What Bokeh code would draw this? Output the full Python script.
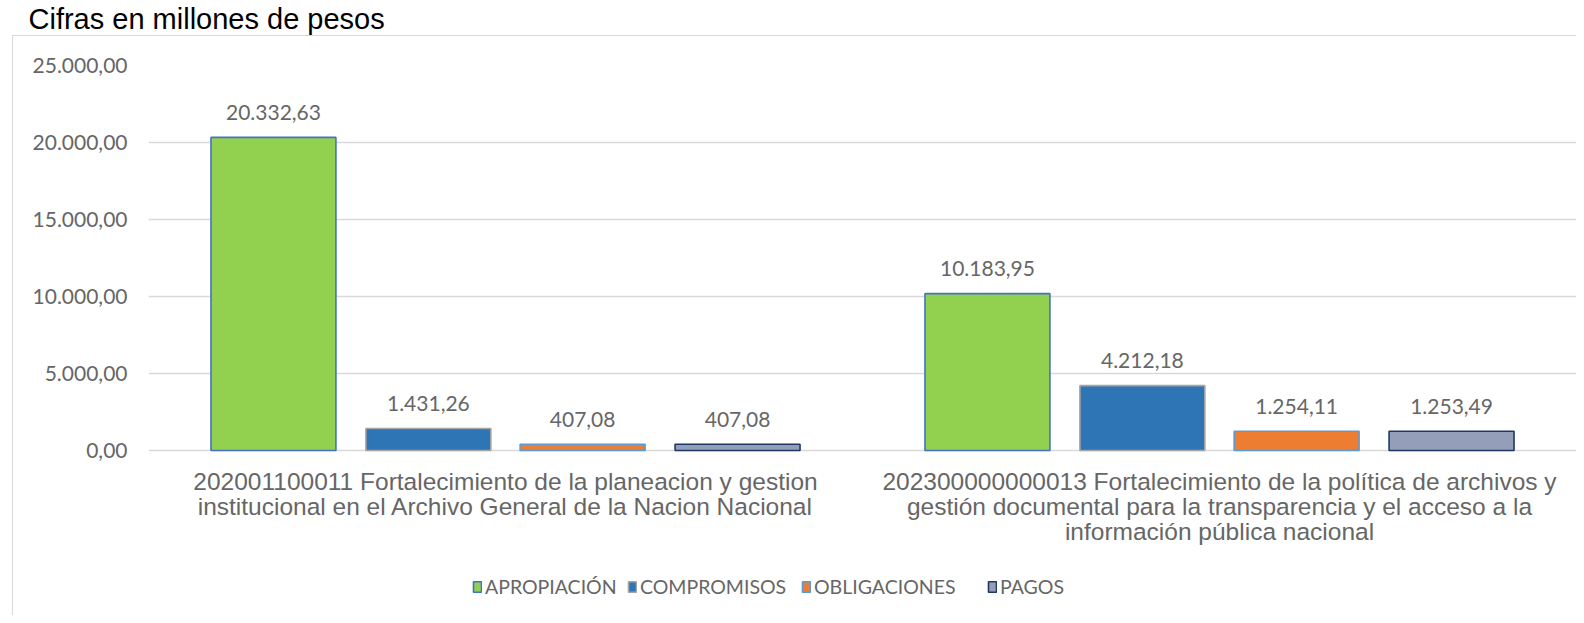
from bokeh.plotting import figure
from bokeh.models import (ColumnDataSource, FactorRange, Range1d, FixedTicker, Legend,
                          LegendItem, InlineStyleSheet, Title)
from bokeh.transform import dodge
from bokeh.core.properties import value
from bokeh.embed import file_html
from bokeh.resources import INLINE

# ---------------- data ----------------
categories = [
    "202001100011 Fortalecimiento de la planeacion y gestion\ninstitucional en el Archivo General de la Nacion Nacional",
    "202300000000013 Fortalecimiento de la política de archivos y\ngestión documental para la transparencia y el acceso a la\ninformación pública nacional",
]
series_names = ["APROPIACIÓN", "COMPROMISOS", "OBLIGACIONES", "PAGOS"]
apropiacion = [20332.63, 10183.95]
compromisos = [1431.26, 4212.18]
obligaciones = [407.08, 1254.11]
pagos = [407.08, 1253.49]
y_ticks = [0, 5000, 10000, 15000, 20000, 25000]
y_tick_labels = ["0,00", "5.000,00", "10.000,00", "15.000,00", "20.000,00", "25.000,00"]
title_text = "Cifras en millones de pesos"

series_values = [apropiacion, compromisos, obligaciones, pagos]
fills = ["#92D050", "#2E75B6", "#ED7D31", "#959EB9"]
outlines = ["#4472C4", "#A5A5A5", "#5B9BD5", "#203864"]
offsets = [-0.325, -0.108, 0.108, 0.325]
BAR_W = 0.175
legend_x = [324, 479, 653, 839]   # pixel position of each legend entry (from frame left)


def es_fmt(v):
    s = f"{v:,.2f}"
    return s.replace(",", "X").replace(".", ",").replace("X", ".")


GRAY = "#666666"
NUM_FONT = "Lato"

# layout (pixels)
W, H = 1576, 615
LEFT, BOTTOM, TOP = 148, 5, 65
ZERO_PX = 450                      # canvas y of value 0
value_px = ZERO_PX - TOP           # pixels for 0..25000
below_px = (H - BOTTOM) - ZERO_PX  # pixels of frame below zero
y_max = y_ticks[-1]
y_min = -y_max * below_px / value_px

border_css = InlineStyleSheet(css="""
:host::after {
  content: '';
  position: absolute;
  left: 12px; top: 35px; right: 0px; bottom: 0px;
  border-left: 1.5px solid #d9d9d9;
  border-top: 1.5px solid #d9d9d9;
  pointer-events: none;
}
""")

p = figure(x_range=FactorRange(*categories, range_padding=0),
           y_range=Range1d(y_min, y_max),
           width=W, height=H,
           output_backend="svg", toolbar_location=None,
           min_border_left=LEFT, min_border_right=0,
           min_border_top=TOP, min_border_bottom=BOTTOM,
           title=title_text)
p.stylesheets = [border_css]

# real title (outermost panel)
p.title.text_font = "Liberation Sans"
p.title.text_font_size = "29px"
p.title.text_font_style = "normal"
p.title.text_color = "#000000"
p.title.align = "left"
p.title.vertical_align = "middle"
p.title.offset = -120
p.title.standoff = 0

# spacer title, stacked between the real title and the frame
spacer = Title(text=" ", text_font_size="1px", standoff=27, text_color="#ffffff")
p.add_layout(spacer, "above")

p.outline_line_color = None
p.xgrid.grid_line_color = None
p.ygrid.grid_line_color = "#d9d9d9"
p.ygrid.grid_line_width = 1.3
p.xaxis.visible = False

p.yaxis.ticker = FixedTicker(ticks=y_ticks)
p.yaxis.major_label_overrides = {t: l for t, l in zip(y_ticks, y_tick_labels)}
p.yaxis.axis_line_color = None
p.yaxis.major_tick_line_color = None
p.yaxis.minor_tick_line_color = None
p.yaxis.major_label_standoff = 15
p.yaxis.major_label_text_font = NUM_FONT
p.yaxis.major_label_text_font_size = "21px"
p.yaxis.major_label_text_color = GRAY

# category labels under the baseline
cat_src = ColumnDataSource(dict(cat=categories, y=[0] * len(categories)))
p.text(x="cat", y="y", text="cat", source=cat_src, text_align="center",
       text_baseline="top", y_offset=17, text_line_height=0.93,
       text_font=value("Liberation Sans"), text_font_size="24.5px", text_color=GRAY)

for name, vals, fc, lc, off, lx in zip(series_names, series_values, fills, outlines,
                                        offsets, legend_x):
    src = ColumnDataSource(dict(cat=categories, val=vals, lab=[es_fmt(v) for v in vals]))
    r = p.vbar(x=dodge("cat", off, range=p.x_range), top="val", width=BAR_W, source=src,
               fill_color=fc, line_color=lc, line_width=1.6)
    p.text(x=dodge("cat", off, range=p.x_range), y="val", text="lab", source=src,
           text_align="center", text_baseline="middle", y_offset=-25,
           text_font=value(NUM_FONT), text_font_size="21px", text_color=GRAY)
    leg = Legend(items=[LegendItem(label=name, renderers=[r])],
                 orientation="horizontal", location=(lx, 12),
                 glyph_width=10, glyph_height=13, label_standoff=3,
                 label_text_font=NUM_FONT, label_text_font_size="19.5px",
                 label_text_color=GRAY, border_line_color=None,
                 background_fill_alpha=0, margin=0, padding=6)
    p.add_layout(leg, "center")

open("out.html", "w").write(file_html(p, INLINE))
